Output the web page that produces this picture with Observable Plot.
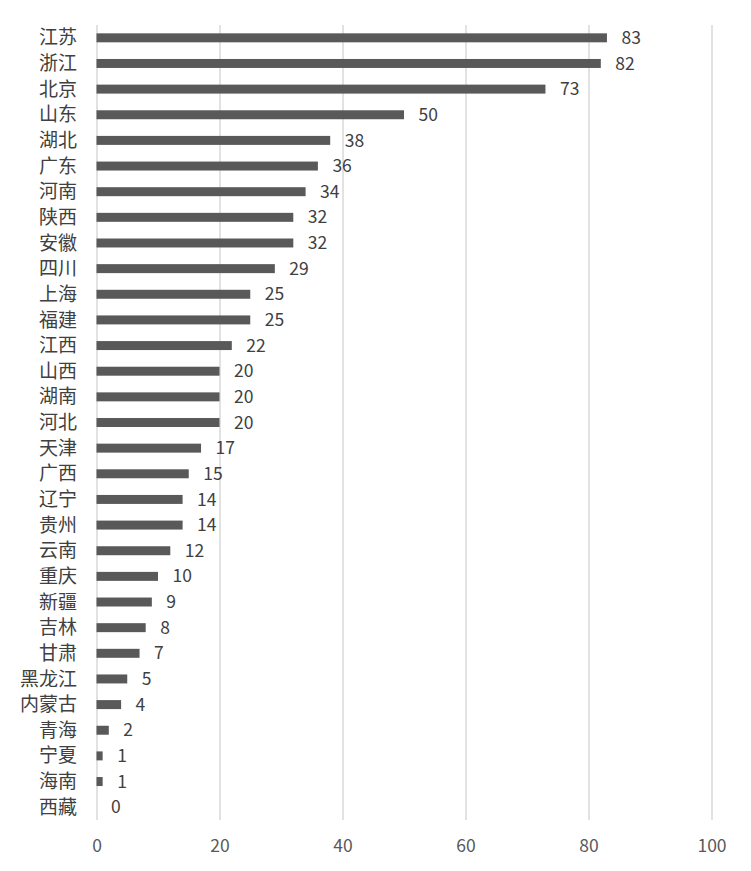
<!DOCTYPE html>
<html>
<head>
<meta charset="utf-8">
<script src="https://cdn.jsdelivr.net/npm/d3@7"></script>
<script src="https://cdn.jsdelivr.net/npm/@observablehq/plot@0.6"></script>
<style>
  html, body { margin: 0; padding: 0; background: #fff; }
  #chart svg { display: block; }
</style>
</head>
<body>
<div id="chart"></div>
<script>
const provinces = ["江苏","浙江","北京","山东","湖北","广东","河南","陕西","安徽","四川","上海","福建","江西","山西","湖南","河北","天津","广西","辽宁","贵州","云南","重庆","新疆","吉林","甘肃","黑龙江","内蒙古","青海","宁夏","海南","西藏"];
const counts = [83,82,73,50,38,36,34,32,32,29,25,25,22,20,20,20,17,15,14,14,12,10,9,8,7,5,4,2,1,1,0];
const xTicks = [0,20,40,60,80,100];

const data = provinces.map((p, i) => ({province: p, value: counts[i]}));

const chart = Plot.plot({
  width: 751,
  height: 871,
  marginLeft: 96.5,
  marginRight: 39.5,
  marginTop: 25,
  marginBottom: 51,
  style: {fontFamily: "'Noto Sans CJK SC', 'Noto Sans', sans-serif", background: "#fff"},
  x: {domain: [0, 100], ticks: xTicks, label: null},
  y: {domain: provinces, label: null, paddingInner: 0.65, paddingOuter: 0.325, round: false},
  marks: [
    Plot.gridX(xTicks, {stroke: "#d9d9d9", strokeOpacity: 1, strokeWidth: 1.5}),
    Plot.barX(data, {y: "province", x: "value", fill: "#595959"}),
    Plot.text(data, {y: "province", x: "value", text: d => String(d.value), dx: 14, textAnchor: "start", fontSize: 17.5, fill: "#404040"}),
    Plot.axisX({ticks: xTicks, tickSize: 0, tickPadding: 19, fontSize: 17.5, color: "#595959", label: null}),
    Plot.axisY({tickSize: 0, tickPadding: 20, fontSize: 19, color: "#404040", label: null})
  ]
});
document.getElementById("chart").appendChild(chart);
</script>
</body>
</html>
